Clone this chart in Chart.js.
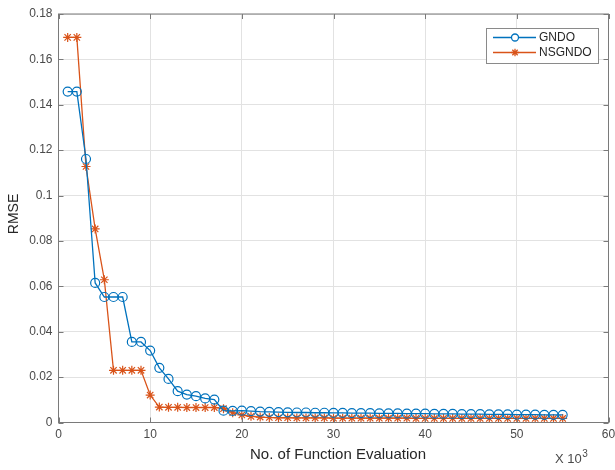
<!DOCTYPE html>
<html>
<head>
<meta charset="utf-8">
<script src="https://cdn.jsdelivr.net/npm/chart.js@4/dist/chart.umd.min.js"></script>
<style>
  html, body { margin: 0; padding: 0; background: #ffffff; }
  #wrap { position: relative; width: 615px; height: 470px; }
</style>
</head>
<body>
<div id="wrap"><canvas id="c" width="615" height="470"></canvas></div>
<script>
// Function evaluations (in thousands)
const evaluations = [1, 2, 3, 4, 5, 6, 7, 8, 9, 10, 11, 12, 13, 14, 15, 16, 17, 18, 19, 20,
  21, 22, 23, 24, 25, 26, 27, 28, 29, 30, 31, 32, 33, 34, 35, 36, 37, 38, 39, 40,
  41, 42, 43, 44, 45, 46, 47, 48, 49, 50, 51, 52, 53, 54, 55];

// RMSE convergence of GNDO
const gndo = [0.1458, 0.1458, 0.1161, 0.0615, 0.0553, 0.0553, 0.0553, 0.0355, 0.0355, 0.0317,
  0.0241, 0.0192, 0.0138, 0.0123, 0.0116, 0.0106, 0.0101, 0.0052, 0.0051, 0.0052,
  0.0050, 0.0048, 0.0047, 0.0046, 0.0045, 0.0044, 0.0044, 0.0043, 0.0043, 0.0042,
  0.0042, 0.0041, 0.0041, 0.0041, 0.0040, 0.0040, 0.0040, 0.0039, 0.0039, 0.0039,
  0.0038, 0.0038, 0.0038, 0.0037, 0.0037, 0.0037, 0.0036, 0.0036, 0.0036, 0.0035,
  0.0035, 0.0035, 0.0034, 0.0034, 0.0034];

// RMSE convergence of NSGNDO
const nsgndo = [0.1697, 0.1697, 0.1128, 0.0853, 0.0629, 0.0230, 0.0230, 0.0230, 0.0230, 0.0121,
  0.0068, 0.0067, 0.0067, 0.0066, 0.0066, 0.0066, 0.0066, 0.0061, 0.0043, 0.0033,
  0.0027, 0.0024, 0.0022, 0.0021, 0.0021, 0.0020, 0.0020, 0.0020, 0.0020, 0.0019,
  0.0019, 0.0019, 0.0019, 0.0019, 0.0019, 0.0019, 0.0019, 0.0019, 0.0018, 0.0018,
  0.0018, 0.0018, 0.0018, 0.0018, 0.0018, 0.0018, 0.0018, 0.0018, 0.0018, 0.0018,
  0.0018, 0.0018, 0.0018, 0.0018, 0.0018];

const seriesNames = ['GNDO', 'NSGNDO'];
const xTitle = 'No. of Function Evaluation';
const yTitle = 'RMSE';
const xExponent = '3';

const BLUE = '#0072BD';
const ORANGE = '#D95319';
const FONT = '"Liberation Sans", Arial, sans-serif';
const AXIS = '#7a7a7a';
const TEXT = '#4a4a4a';

function pts(ys) { return evaluations.map((x, i) => ({ x: x, y: ys[i] })); }

// Axes box, inward ticks, axis titles, exponent and legend
const decorations = {
  id: 'decorations',
  afterDatasetsDraw(chart) {
    const ctx = chart.ctx;
    const a = chart.chartArea;
    const xs = chart.scales.x, ys = chart.scales.y;
    ctx.save();
    ctx.strokeStyle = AXIS;
    ctx.lineWidth = 1;
    ctx.strokeRect(a.left, a.top, a.right - a.left, a.bottom - a.top);
    const tl = 5;
    ctx.beginPath();
    xs.ticks.forEach(t => {
      const px = Math.round(xs.getPixelForValue(t.value)) + 0.5;
      ctx.moveTo(px, a.bottom); ctx.lineTo(px, a.bottom - tl);
      ctx.moveTo(px, a.top); ctx.lineTo(px, a.top + tl);
    });
    ys.ticks.forEach(t => {
      const py = Math.round(ys.getPixelForValue(t.value)) + 0.5;
      ctx.moveTo(a.left, py); ctx.lineTo(a.left + tl, py);
      ctx.moveTo(a.right, py); ctx.lineTo(a.right - tl, py);
    });
    ctx.stroke();

    // axis titles
    ctx.fillStyle = '#262626';
    ctx.font = '15px ' + FONT;
    ctx.textAlign = 'center';
    ctx.textBaseline = 'alphabetic';
    ctx.fillText(xTitle, 338, 459);
    ctx.save();
    ctx.translate(18, 214);
    ctx.rotate(-Math.PI / 2);
    ctx.font = '14px ' + FONT;
    ctx.fillText(yTitle, 0, 0);
    ctx.restore();

    // x-axis exponent
    ctx.fillStyle = TEXT;
    ctx.textAlign = 'left';
    ctx.font = '13px ' + FONT;
    const base = 'X 10';
    ctx.fillText(base, 555, 463);
    const bw = ctx.measureText(base).width;
    ctx.font = '10px ' + FONT;
    ctx.fillText(xExponent, 555 + bw + 0.5, 457);

    // legend
    const lx = 486, ly = 28, lw = 112, lh = 35;
    ctx.fillStyle = '#ffffff';
    ctx.fillRect(lx, ly, lw, lh);
    ctx.strokeStyle = '#8a8a8a';
    ctx.lineWidth = 1;
    ctx.strokeRect(lx + 0.5, ly + 0.5, lw, lh);
    const rows = [
      { name: seriesNames[0], color: BLUE, y: ly + 9.5 },
      { name: seriesNames[1], color: ORANGE, y: ly + 24.5 }
    ];
    rows.forEach((r, i) => {
      ctx.strokeStyle = r.color;
      ctx.lineWidth = 1.3;
      ctx.beginPath();
      ctx.moveTo(lx + 7, r.y); ctx.lineTo(lx + 50, r.y);
      ctx.stroke();
      const cx = lx + 29;
      ctx.beginPath();
      if (i === 0) {
        ctx.fillStyle = '#ffffff';
        ctx.arc(cx, r.y, 3.5, 0, Math.PI * 2);
        ctx.fill();
        ctx.stroke();
      } else {
        const s = 3.8, d = s * Math.SQRT1_2;
        ctx.moveTo(cx - s, r.y); ctx.lineTo(cx + s, r.y);
        ctx.moveTo(cx, r.y - s); ctx.lineTo(cx, r.y + s);
        ctx.moveTo(cx - d, r.y - d); ctx.lineTo(cx + d, r.y + d);
        ctx.moveTo(cx - d, r.y + d); ctx.lineTo(cx + d, r.y - d);
        ctx.stroke();
      }
      ctx.fillStyle = '#262626';
      ctx.font = '12px ' + FONT;
      ctx.textAlign = 'left';
      ctx.textBaseline = 'middle';
      ctx.fillText(r.name, lx + 53, r.y + 0.5);
    });
    ctx.restore();
  }
};

new Chart(document.getElementById('c'), {
  type: 'line',
  data: {
    datasets: [
      {
        label: seriesNames[0],
        data: pts(gndo),
        borderColor: BLUE,
        borderWidth: 1.3,
        pointStyle: 'circle',
        pointRadius: 4.5,
        pointBorderWidth: 1.2,
        pointBorderColor: BLUE,
        pointBackgroundColor: 'rgba(0,0,0,0)',
        tension: 0,
        fill: false
      },
      {
        label: seriesNames[1],
        data: pts(nsgndo),
        borderColor: ORANGE,
        borderWidth: 1.3,
        pointStyle: 'star',
        pointRadius: 4.5,
        pointBorderWidth: 1.2,
        pointBorderColor: ORANGE,
        pointBackgroundColor: ORANGE,
        tension: 0,
        fill: false
      }
    ]
  },
  options: {
    responsive: false,
    animation: false,
    events: [],
    layout: { padding: { top: 14, right: 6.5, left: 0, bottom: 0 } },
    plugins: { legend: { display: false }, tooltip: { enabled: false }, title: { display: false } },
    scales: {
      x: {
        type: 'linear',
        min: 0, max: 60,
        afterFit(s) { s.height = 47.5; s.paddingLeft = 0; s.paddingRight = 0; },
        ticks: { stepSize: 10, color: TEXT, font: { family: FONT, size: 12 }, padding: 5, maxRotation: 0 },
        grid: { color: '#e2e2e2', drawTicks: false },
        border: { display: false }
      },
      y: {
        type: 'linear',
        min: 0, max: 0.18,
        afterFit(s) { s.width = 58.5; s.paddingTop = 0; s.paddingBottom = 0; },
        ticks: {
          stepSize: 0.02, color: TEXT, font: { family: FONT, size: 12 }, padding: 6,
          callback: v => String(+v.toFixed(2))
        },
        grid: { color: '#e2e2e2', drawTicks: false },
        border: { display: false }
      }
    }
  },
  plugins: [decorations]
});
</script>
</body>
</html>
